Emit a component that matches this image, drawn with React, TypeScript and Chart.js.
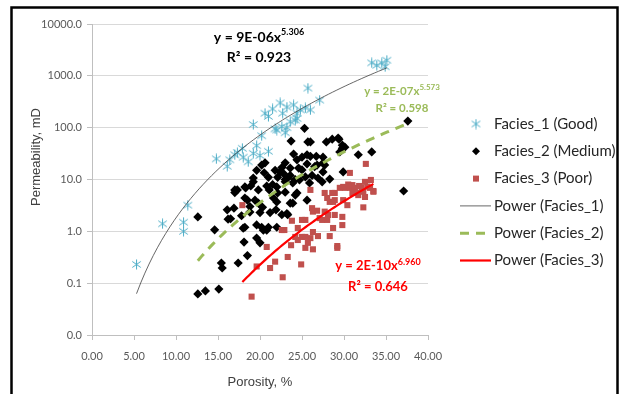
import React, { useEffect, useRef } from "react";
import { Chart, registerables } from "chart.js";
Chart.register(...registerables);

// ---------------- data ----------------
const facies1: number[][] = [
  [5.3, 0.23], [8.4, 1.4], [10.9, 1.5], [10.9, 1.0], [11.4, 3.2], [14.8, 25], [16.1, 18], [16.4, 24],
  [17.0, 30], [17.3, 33], [17.9, 40], [18.0, 27], [18.6, 22], [19.2, 115], [19.2, 32], [19.6, 45],
  [20.0, 29], [20.2, 70], [20.6, 190], [21.0, 165], [21.0, 35], [21.5, 230], [21.8, 95], [22.0, 90],
  [22.4, 300], [22.7, 190], [22.6, 105], [23.0, 80], [23.2, 250], [23.2, 100], [23.6, 130], [24.0, 275],
  [24.2, 140], [24.4, 190], [24.4, 150], [24.8, 220], [25.4, 240], [25.7, 580], [26.0, 220], [27.1, 340],
  [33.3, 1780], [33.9, 1600], [34.5, 1780], [34.9, 1500], [35.1, 2000],
];

const facies2: number[][] = [
  [12.6, 1.9], [12.6, 0.062], [13.5, 0.071], [15.1, 0.077], [14.6, 1.07], [15.4, 0.245], [15.5, 0.196],
  [16.1, 2.6], [16.2, 1.72], [16.5, 1.75], [16.9, 2.8], [17.0, 6.3], [17.0, 5.6], [18.3, 6.9], [17.4, 0.245],
  [18.0, 1.15], [18.1, 0.62], [18.5, 0.34], [18.5, 4.0], [18.8, 3.0], [18.2, 1.2], [19.2, 10.7], [19.6, 1.33],
  [19.6, 0.74], [18.2, 4.4], [18.8, 2.35], [19.8, 3.5], [20.0, 2.3], [20.2, 1.2], [20.0, 0.6], [20.4, 1.05],
  [21.0, 1.2], [21.2, 2.3], [20.8, 1.05], [22.0, 1.2], [22.0, 3.7], [22.6, 2.1], [23.3, 2.1], [22.1, 5.5],
  [23.9, 3.5], [24.2, 5.0], [23.0, 5.7], [20.2, 19], [21.0, 11], [19.6, 15], [19.2, 9], [18.2, 7.2],
  [17.3, 6.3], [22.1, 11], [22.0, 7.2], [23.0, 10], [23.3, 10.7], [23.9, 8.6], [24.6, 16.6], [25.0, 15.3],
  [25.3, 97], [23.7, 55], [24.0, 31], [24.4, 24], [25.0, 27], [23.6, 16.6], [25.7, 53], [27.9, 53],
  [29.4, 60], [28.6, 60], [26.0, 28], [26.7, 28], [27.5, 27], [25.6, 20], [26.8, 19], [27.7, 19],
  [29.5, 34], [29.8, 40], [30.1, 42], [31.7, 30], [33.3, 34], [29.9, 14], [28.3, 10.2], [27.5, 14],
  [23.6, 12], [23.0, 9], [24.2, 10], [25.4, 11.2], [26.2, 12], [26.9, 10.7], [27.4, 9], [25.6, 4.0],
  [24.4, 5.5], [23.2, 2.2], [23.6, 3.5], [37.1, 6.0], [37.6, 134], [23.0, 21], [20.6, 21], [26.5, 17.7],
  [27.5, 20.8], [21.5, 8], [20.5, 13.5], [21.8, 15], [22.6, 17], [22.8, 13], [19.8, 6.3], [20.8, 7.5],
  [19.4, 4.0], [21.6, 4.4], [17.8, 2.0], [29.3, 63], [29.8, 46], [26.0, 53], [25.6, 30], [21.1, 6.3],
  [22.4, 14], [24.7, 9.8], [25.9, 8.6], [18.9, 7.5], [20.3, 2.9], [21.9, 2.6],
];

const facies3: number[][] = [
  [17.9, 3.2], [19.0, 0.055], [19.6, 0.21], [21.2, 0.196], [22.7, 0.13], [21.8, 0.26], [20.8, 0.5],
  [23.3, 0.32], [24.9, 0.23], [23.7, 0.54], [24.5, 0.68], [25.4, 0.48], [25.7, 0.6], [25.0, 0.78],
  [26.3, 0.45], [26.9, 0.81], [26.0, 0.74], [29.2, 0.52], [22.6, 1.06], [24.5, 1.16], [25.4, 1.66],
  [25.0, 1.66], [23.8, 1.6], [28.7, 1.16], [29.8, 1.32], [26.2, 2.8], [26.3, 2.4], [26.8, 2.5],
  [27.7, 2.4], [28.1, 2.07], [28.9, 2.07], [29.8, 1.9], [27.1, 1.8], [27.7, 5.5], [28.9, 4.0],
  [28.9, 5.5], [29.9, 4.0], [30.1, 6.9], [28.3, 3.7], [30.4, 3.2], [29.5, 6.9], [29.9, 7.2],
  [30.7, 6.9], [31.3, 6.9], [31.0, 5.5], [31.5, 5.5], [32.1, 6.9], [32.3, 5.8], [33.1, 6.9],
  [32.5, 9.0], [33.2, 9.8], [33.5, 5.8], [32.3, 2.9], [32.5, 4.6], [31.7, 5.0], [31.0, 7.8],
  [32.6, 20], [30.7, 13.4], [33.5, 6.0], [26.0, 6.3], [28.6, 5.5], [28.0, 4.4], [28.7, 3.7],
  [27.4, 1.66], [28.0, 1.66], [22.9, 1.06], [24.2, 0.78], [25.4, 0.78], [26.3, 0.97], [28.3, 0.81],
  [29.2, 0.48], [31.8, 7.5], [30.5, 8.0], [32.8, 7.3],
];

const seriesLabels = ["Facies_1 (Good)", "Facies_2 (Medium)", "Facies_3 (Poor)"];
const trendLabels = ["Power (Facies_1)", "Power (Facies_2)", "Power (Facies_3)"];
// Power trendlines y = a * x^b (as printed on the chart)
const trendCoef = [9e-6, 2e-7, 2e-10];
const trendExp = [5.306, 5.573, 6.96];
const trendFrom = [5.3, 12.6, 17.9];
const trendTo = [35.1, 37.6, 33.5];
const eqMain = ["y = 9E-06x", "y = 2E-07x", "y = 2E-10x"];
const eqSup = ["5.306", "5.573", "6.960"];
const eqR2 = ["R² = 0.923", "R² = 0.598", "R² = 0.646"];
const xTitle = "Porosity, %";
const yTitle = "Permeability, mD";

const xTicks = [0, 5, 10, 15, 20, 25, 30, 35, 40];
const yTicks = [0.01, 0.1, 1, 10, 100, 1000, 10000];

// ---------------- styles ----------------
const C1 = "#4BACC6";
const C2 = "#000000";
const C3 = "#C0504D";
const T1 = "#404040";
const T2 = "#9BBB59";
const T3 = "#FF0000";

function makeAsterisk(color: string, size: number) {
  const c = document.createElement("canvas");
  c.width = size;
  c.height = size;
  const g = c.getContext("2d")!;
  g.strokeStyle = color;
  g.lineWidth = 1;
  const cx = size / 2, cy = size / 2, r = size / 2 - 0.5;
  g.beginPath();
  g.moveTo(cx, cy - r); g.lineTo(cx, cy + r);
  g.moveTo(cx - r * 0.85, cy - r * 0.6); g.lineTo(cx + r * 0.85, cy + r * 0.6);
  g.moveTo(cx - r * 0.85, cy + r * 0.6); g.lineTo(cx + r * 0.85, cy - r * 0.6);
  g.stroke();
  return c;
}

function trendPoints(i: number) {
  const pts: { x: number; y: number }[] = [];
  const n = 60;
  for (let k = 0; k <= n; k++) {
    const x = trendFrom[i] + ((trendTo[i] - trendFrom[i]) * k) / n;
    pts.push({ x, y: trendCoef[i] * Math.pow(x, trendExp[i]) });
  }
  return pts;
}

function drawEq(ctx: CanvasRenderingContext2D, cx: number, y1: number, y2: number, i: number, color: string, size: number) {
  ctx.fillStyle = color;
  ctx.textBaseline = "middle";
  ctx.textAlign = "left";
  const mainFont = `bold ${size}px Lato`;
  const supFont = `bold ${Math.round(size * 0.66)}px Lato`;
  ctx.font = mainFont;
  const w1 = ctx.measureText(eqMain[i]).width;
  ctx.font = supFont;
  const w2 = ctx.measureText(eqSup[i]).width;
  const x0 = cx - (w1 + w2) / 2;
  ctx.font = mainFont;
  ctx.fillText(eqMain[i], x0, y1);
  ctx.font = supFont;
  ctx.fillText(eqSup[i], x0 + w1, y1 - size * 0.33);
  ctx.font = mainFont;
  ctx.textAlign = "center";
  ctx.fillText(eqR2[i], cx, y2);
}

const decorPlugin = {
  id: "decor",
  beforeDraw(chart: any) {
    const ctx = chart.ctx;
    ctx.save();
    ctx.fillStyle = "#fff";
    ctx.fillRect(0, 0, chart.width, chart.height);
    ctx.restore();
  },
  afterDraw(chart: any) {
    const ctx: CanvasRenderingContext2D = chart.ctx;
    ctx.save();
    // outer frame
    ctx.strokeStyle = "#000";
    ctx.lineWidth = 2.5;
    ctx.strokeRect(11.5, 7.5, 606, 420);

    // y axis title
    ctx.save();
    ctx.translate(36, 157);
    ctx.rotate(-Math.PI / 2);
    ctx.font = "13px 'Liberation Sans'";
    ctx.fillStyle = "#404040";
    ctx.textAlign = "center";
    ctx.textBaseline = "middle";
    ctx.fillText(yTitle, 0, 0);
    ctx.restore();

    // equations
    drawEq(ctx, 259, 37, 57, 0, "#000", 14);
    drawEq(ctx, 402, 91, 108, 1, T2, 11.5);
    drawEq(ctx, 378, 266, 287, 2, T3, 13);

    // legend
    const ds = chart.data.datasets;
    const mx = 476, tx = 494, y0 = 124, dy = 27.3;
    ctx.font = "15px Lato";
    ctx.textBaseline = "middle";
    ctx.textAlign = "left";
    for (let i = 0; i < 6; i++) {
      const d = ds[i];
      const y = y0 + dy * i;
      if (i < 3) {
        const ps = d.pointStyle;
        if (typeof ps === "object") {
          ctx.drawImage(ps, mx - ps.width / 2, y - ps.height / 2);
        } else if (ps === "rectRot") {
          ctx.fillStyle = d.backgroundColor;
          ctx.beginPath();
          const r = 4;
          ctx.moveTo(mx, y - r); ctx.lineTo(mx + r, y); ctx.lineTo(mx, y + r); ctx.lineTo(mx - r, y);
          ctx.closePath();
          ctx.fill();
        } else {
          ctx.fillStyle = d.backgroundColor;
          ctx.fillRect(mx - 3, y - 3, 6, 6);
        }
      } else {
        ctx.strokeStyle = d.borderColor;
        ctx.lineWidth = d.borderWidth;
        ctx.setLineDash(d.borderDash || []);
        ctx.beginPath();
        ctx.moveTo(460, y);
        ctx.lineTo(491, y);
        ctx.stroke();
        ctx.setLineDash([]);
      }
      ctx.fillStyle = "#262626";
      ctx.fillText(d.label, tx, y);
    }
    ctx.restore();
  },
};

export default function App() {
  const ref = useRef<HTMLCanvasElement | null>(null);
  useEffect(() => {
    if (!ref.current) return;
    const star = makeAsterisk(C1, 11);
    const toPts = (a: number[][]) => a.map(([x, y]) => ({ x, y }));
    const chart = new Chart(ref.current, {
      type: "scatter",
      data: {
        datasets: [
          { label: seriesLabels[0], data: toPts(facies1), pointStyle: star as any, pointRadius: 5, borderColor: C1, backgroundColor: C1, order: 6 },
          { label: seriesLabels[1], data: toPts(facies2), pointStyle: "rectRot", pointRadius: 4.6, borderWidth: 0, borderColor: C2, backgroundColor: C2, order: 5 },
          { label: seriesLabels[2], data: toPts(facies3), pointStyle: "rect", pointRadius: 4.3, borderWidth: 0, borderColor: C3, backgroundColor: C3, order: 4 },
          { label: trendLabels[0], data: trendPoints(0), showLine: true, pointRadius: 0, borderColor: T1, borderWidth: 0.8, backgroundColor: T1, order: 3 },
          { label: trendLabels[1], data: trendPoints(1), showLine: true, pointRadius: 0, borderColor: T2, borderWidth: 3, borderDash: [9, 7], backgroundColor: T2, order: 2 },
          { label: trendLabels[2], data: trendPoints(2), showLine: true, pointRadius: 0, borderColor: T3, borderWidth: 2.2, backgroundColor: T3, order: 1 },
        ] as any,
      },
      options: {
        responsive: false,
        animation: false,
        events: [],
        layout: { padding: { left: 12, top: 24, right: 194, bottom: 0 } },
        plugins: { legend: { display: false }, tooltip: { enabled: false } },
        scales: {
          x: {
            type: "linear",
            min: 0,
            max: 40,
            afterBuildTicks: (s: any) => { s.ticks = xTicks.map((v) => ({ value: v })); },
            ticks: { callback: (v: any) => Number(v).toFixed(2), font: { family: "Lato", size: 11 }, color: "#595959", padding: 10, maxRotation: 0 },
            grid: { drawOnChartArea: false, drawTicks: true, tickLength: 5, color: "#BFBFBF" },
            border: { color: "#BFBFBF" },
            title: { display: true, text: xTitle, font: { family: "Liberation Sans", size: 13 }, color: "#404040", padding: { top: 4, bottom: 4 } },
            afterFit: (s: any) => { s.height = 59; },
          } as any,
          y: {
            type: "logarithmic",
            min: 0.01,
            max: 10000,
            afterBuildTicks: (s: any) => { s.ticks = yTicks.map((v) => ({ value: v })); },
            ticks: { callback: (v: any) => Number(v).toFixed(1), font: { family: "Lato", size: 11 }, color: "#595959", padding: 5, autoSkip: false },
            grid: { color: "#D9D9D9", tickLength: 5, tickColor: "#BFBFBF" },
            border: { color: "#BFBFBF" },
            title: { display: false },
            afterFit: (s: any) => { s.width = 80; },
          } as any,
        },
      },
      plugins: [decorPlugin],
    });
    return () => chart.destroy();
  }, []);
  return (
    <div style={{ position: "fixed", left: 0, top: 0, width: 622, height: 394 }}>
      <canvas ref={ref} width={622} height={394} style={{ width: 622, height: 394, display: "block" }} />
    </div>
  );
}
